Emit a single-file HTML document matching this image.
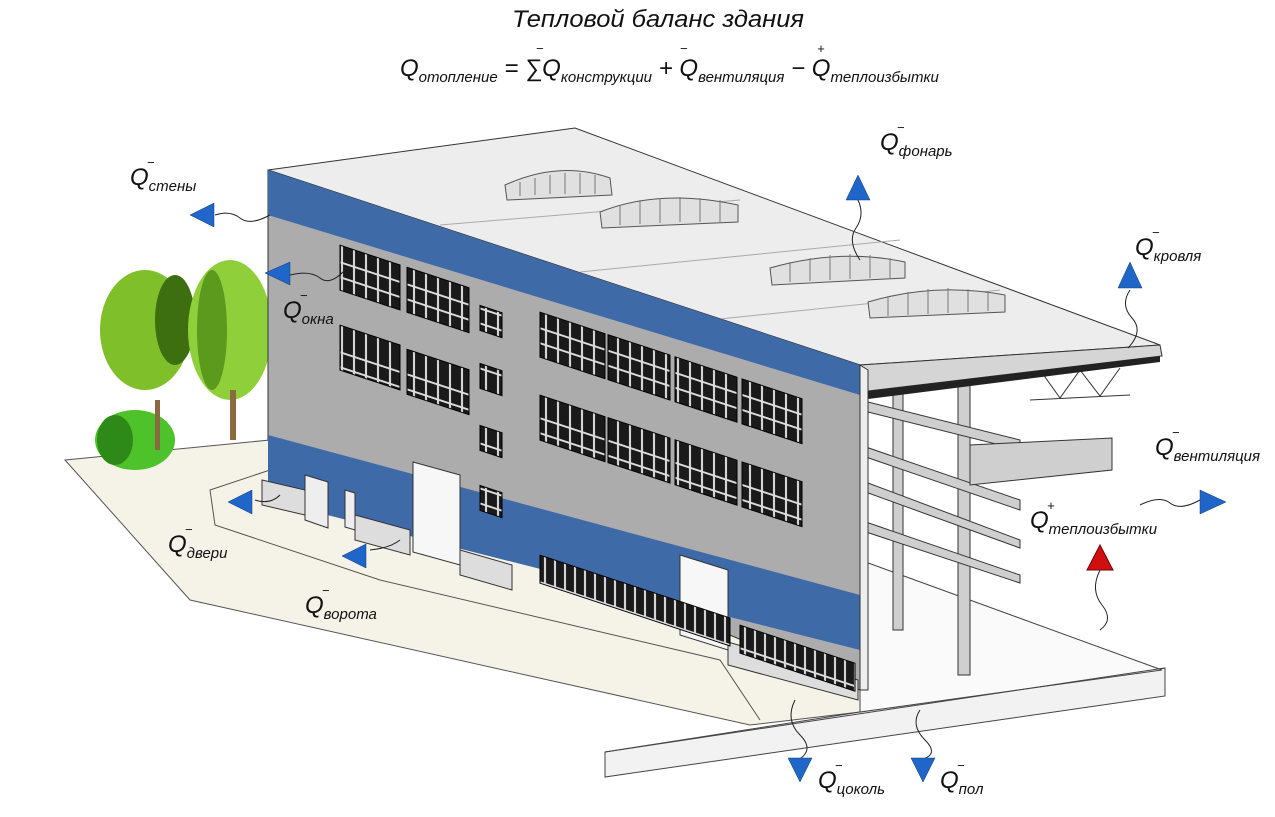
<!DOCTYPE html>
<html><head><meta charset="utf-8"><style>
html,body{margin:0;padding:0;background:#fff}
svg{display:block}
text{font-family:"Liberation Sans","DejaVu Sans",sans-serif;font-style:italic;fill:#111}
</style></head><body>
<svg width="1275" height="817" viewBox="0 0 1275 817" xmlns="http://www.w3.org/2000/svg">
<defs>
<pattern id="win" width="12" height="45" patternUnits="userSpaceOnUse">
<rect width="12" height="45" fill="#1a1a1a"/><rect x="5" y="0" width="2" height="45" fill="#ddd"/>
<rect x="0" y="14" width="12" height="2" fill="#ddd"/><rect x="0" y="29" width="12" height="2" fill="#ddd"/>
</pattern>
<pattern id="win2" width="10" height="30" patternUnits="userSpaceOnUse">
<rect width="10" height="30" fill="#1a1a1a"/><rect x="4" y="0" width="2" height="30" fill="#ddd"/>
<rect x="0" y="13" width="10" height="2" fill="#ddd"/>
</pattern>
</defs>

<!-- ground -->
<polygon points="65,460 270,440 860,690 860,712 750,725 190,600" fill="#f5f2e8" stroke="#555" stroke-width="1"/>
<polyline points="270,470 210,490 215,525 380,580 720,660 760,720" fill="none" stroke="#555"/>
<polygon points="605,752 860,712 1165,668 1165,696 605,777" fill="#f2f2f2" stroke="#444"/>
<polygon points="860,560 1162,670 860,712" fill="#fafafa" stroke="#444"/>
<line x1="605" y1="752" x2="1165" y2="668" stroke="#444"/>

<!-- trees -->
<ellipse cx="145" cy="330" rx="45" ry="60" fill="#7fbf2a"/>
<ellipse cx="175" cy="320" rx="20" ry="45" fill="#3d6e10"/>
<ellipse cx="230" cy="330" rx="42" ry="70" fill="#8fd03a"/>
<ellipse cx="212" cy="330" rx="15" ry="60" fill="#5c9a1e"/>
<ellipse cx="135" cy="440" rx="40" ry="30" fill="#4ec22a"/>
<ellipse cx="115" cy="440" rx="18" ry="25" fill="#2e8a18"/>
<rect x="230" y="390" width="6" height="50" fill="#8a6a40"/>
<rect x="155" y="400" width="5" height="50" fill="#8a6a40"/>

<!-- roof -->
<polygon points="268,170 575,128 1160,345 860,365" fill="#ededed" stroke="#333"/>
<polygon points="860,365 1160,345 1162,356 860,392" fill="#d5d5d5" stroke="#333"/>
<line x1="440" y1="225" x2="740" y2="200" stroke="#aaa"/>
<line x1="580" y1="272" x2="900" y2="240" stroke="#aaa"/>
<line x1="710" y1="320" x2="1000" y2="290" stroke="#aaa"/>
<g fill="#e0e0e0" stroke="#555">
<path d="M505,185 Q560,160 610,178 L612,195 L507,200Z"/>
<path d="M600,212 Q660,188 738,205 L738,222 L602,228Z"/>
<path d="M770,268 Q840,248 905,262 L905,278 L772,285Z"/>
<path d="M868,302 Q935,282 1005,295 L1005,312 L870,318Z"/>
</g>
<g stroke="#777" stroke-width="1">
<path d="M520,182 v14 M535,178 v17 M550,175 v19 M565,173 v21 M580,173 v21 M595,175 v19"/>
<path d="M620,205 v20 M640,200 v24 M660,198 v25 M680,197 v25 M700,198 v24 M720,200 v22"/>
<path d="M790,262 v20 M810,258 v23 M830,255 v25 M850,254 v25 M870,255 v23 M890,258 v20"/>
<path d="M888,296 v20 M908,292 v23 M928,289 v25 M948,288 v25 M968,289 v23 M988,291 v20"/>
</g>
<!-- steel frame -->
<g fill="#cfcfcf" stroke="#333" stroke-width="1">
<rect x="893" y="390" width="10" height="240"/>
<rect x="958" y="385" width="12" height="290"/>
<polygon points="860,400 1020,440 1020,450 860,410"/>
<polygon points="860,445 1020,500 1020,510 860,455"/>
<polygon points="860,480 1020,540 1020,548 860,490"/>
<polygon points="860,520 1020,575 1020,583 860,530"/>
<polygon points="970,445 1112,438 1112,470 970,485"/>
</g>
<g stroke="#333" fill="none"><path d="M1030,400 L1130,395 M1040,370 L1060,398 L1080,370 L1100,396 L1120,368"/></g>
<polygon points="860,392 1160,356 1160,362 860,400" fill="#222"/>

<!-- facade -->
<polygon points="268,170 860,365 860,690 268,440" fill="#acacac" stroke="#333"/>
<polygon points="268,170 860,365 860,395 268,215" fill="#3e6aa8"/>
<polygon points="268,435 860,595 860,650 268,500" fill="#3e6aa8"/>
<polygon points="860,365 868,370 868,690 860,690" fill="#eee" stroke="#333"/>
<polygon points="413,462 460,475 460,565 413,552" fill="#f7f7f7" stroke="#333"/>
<polygon points="680,555 728,570 728,650 680,635" fill="#f7f7f7" stroke="#333"/>
<polygon points="305,475 328,482 328,528 305,520" fill="#eee" stroke="#333"/>
<polygon points="345,490 355,493 355,530 345,527" fill="#eee" stroke="#333"/>
<polygon points="262,480 305,490 305,515 262,505" fill="#ddd" stroke="#333"/>
<polygon points="355,515 410,530 410,555 355,540" fill="#ddd" stroke="#333"/>
<polygon points="460,550 512,565 512,590 460,575" fill="#ddd" stroke="#333"/>
<polygon points="728,642 858,680 858,700 728,665" fill="#ddd" stroke="#333"/>

<g transform="matrix(1,0.33,0,1,0,0)" stroke="#000" stroke-width="1">
<rect x="340" y="133" width="60" height="45" fill="url(#win)"/>
<rect x="407" y="133" width="62" height="45" fill="url(#win)"/>
<rect x="480" y="147" width="22" height="25" fill="url(#win)"/>
<rect x="540" y="134" width="65" height="45" fill="url(#win)"/>
<rect x="608" y="134" width="62" height="45" fill="url(#win)"/>
<rect x="675" y="134" width="62" height="45" fill="url(#win)"/>
<rect x="742" y="134" width="60" height="45" fill="url(#win)"/>
<rect x="340" y="213" width="60" height="45" fill="url(#win)"/>
<rect x="407" y="215" width="62" height="45" fill="url(#win)"/>
<rect x="480" y="205" width="22" height="25" fill="url(#win)"/>
<rect x="540" y="217" width="65" height="45" fill="url(#win)"/>
<rect x="608" y="217" width="62" height="45" fill="url(#win)"/>
<rect x="675" y="217" width="62" height="45" fill="url(#win)"/>
<rect x="742" y="217" width="60" height="45" fill="url(#win)"/>
<rect x="480" y="267" width="22" height="25" fill="url(#win)"/>
<rect x="480" y="327" width="22" height="25" fill="url(#win)"/>
<rect x="540" y="377" width="190" height="28" fill="url(#win2)"/>
<rect x="740" y="381" width="115" height="28" fill="url(#win2)"/>
</g>

<g fill="none" stroke="#222" stroke-width="1">
<path d="M215,215 Q230,210 240,218 T270,215"/>
<path d="M290,275 Q310,270 320,278 T345,270"/>
<path d="M858,200 Q865,215 856,228 T860,260"/>
<path d="M1130,290 Q1120,305 1132,318 T1128,348"/>
<path d="M1140,505 Q1160,495 1170,503 T1200,500"/>
<path d="M1100,570 Q1090,590 1102,605 T1100,630"/>
<path d="M255,500 Q270,505 280,495"/>
<path d="M370,550 Q390,548 400,540"/>
<path d="M795,700 Q785,720 800,735 T798,760"/>
<path d="M920,710 Q910,725 925,740 T920,760"/>
</g>
<g fill="#1f66c8" stroke="#103a7a" stroke-width="0.5">
<polygon points="190,215 214,203 214,227"/>
<polygon points="265,273 290,262 290,285"/>
<polygon points="858,175 846,200 870,200"/>
<polygon points="1130,262 1118,288 1142,288"/>
<polygon points="1226,502 1200,490 1200,514"/>
<polygon points="228,502 252,490 252,514"/>
<polygon points="342,556 366,544 366,568"/>
<polygon points="800,782 788,758 812,758"/>
<polygon points="923,782 911,758 935,758"/>
</g>
<polygon points="1100,545 1087,570 1113,570" fill="#d01010" stroke="#700"/>

<text x="512" y="27" font-size="24" font-style="normal" textLength="292" lengthAdjust="spacingAndGlyphs">Тепловой баланс здания</text>
<g font-size="13" font-style="normal">
<text x="536" y="53">−</text><text x="680" y="53">−</text><text x="817" y="53">+</text>
<text x="147" y="167">−</text><text x="300" y="300">−</text><text x="897" y="132">−</text>
<text x="1152" y="237">−</text><text x="1172" y="437">−</text><text x="1047" y="510">+</text>
<text x="185" y="534">−</text><text x="322" y="595">−</text><text x="835" y="770">−</text><text x="957" y="770">−</text>
</g>
<text x="400" y="76" font-size="24">Q<tspan font-size="15" dy="6">отопление</tspan><tspan dy="-6"> = ∑Q</tspan><tspan font-size="15" dy="6">конструкции</tspan><tspan dy="-6"> + Q</tspan><tspan font-size="15" dy="6">вентиляция</tspan><tspan dy="-6"> − Q</tspan><tspan font-size="15" dy="6">теплоизбытки</tspan></text>
<g font-size="24">
<text x="130" y="185">Q<tspan font-size="15" dy="6">стены</tspan></text>
<text x="283" y="318">Q<tspan font-size="15" dy="6">окна</tspan></text>
<text x="880" y="150">Q<tspan font-size="15" dy="6">фонарь</tspan></text>
<text x="1135" y="255">Q<tspan font-size="15" dy="6">кровля</tspan></text>
<text x="1155" y="455">Q<tspan font-size="15" dy="6">вентиляция</tspan></text>
<text x="1030" y="528">Q<tspan font-size="15" dy="6">теплоизбытки</tspan></text>
<text x="168" y="552">Q<tspan font-size="15" dy="6">двери</tspan></text>
<text x="305" y="613">Q<tspan font-size="15" dy="6">ворота</tspan></text>
<text x="818" y="788">Q<tspan font-size="15" dy="6">цоколь</tspan></text>
<text x="940" y="788">Q<tspan font-size="15" dy="6">пол</tspan></text>
</g>
</svg>
</body></html>
